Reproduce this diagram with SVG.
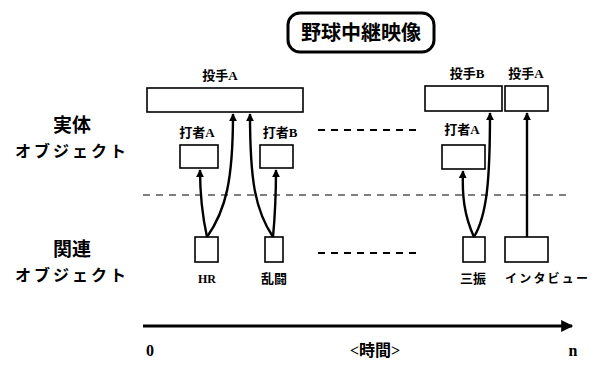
<svg xmlns="http://www.w3.org/2000/svg" width="591" height="365" viewBox="0 0 591 365">
<defs>
<marker id="ah" viewBox="0 0 10 10" refX="9" refY="5" markerWidth="8" markerHeight="8" markerUnits="userSpaceOnUse" orient="auto">
<path d="M0,0 L10,5 L0,10 z" fill="#000"/>
</marker>
<marker id="ah2" viewBox="0 0 10 10" refX="9" refY="5" markerWidth="14" markerHeight="12" markerUnits="userSpaceOnUse" orient="auto">
<path d="M0,0 L10,5 L0,10 z" fill="#000"/>
</marker>
</defs>
<style>
.box{fill:#fff;stroke:#000;stroke-width:1.6}
.lbl{font-family:"Liberation Serif","Noto Sans CJK JP",serif;font-weight:bold;font-size:13px;text-anchor:middle;fill:#000}
.axl{font-family:"Liberation Serif","Noto Sans CJK JP",serif;font-weight:bold;font-size:16px;text-anchor:middle;fill:#000}
.side{font-family:"Noto Sans CJK JP",sans-serif;font-weight:bold;text-anchor:middle;fill:#000}
.arr{fill:none;stroke:#000;stroke-width:2.4;marker-end:url(#ah)}
.dash{stroke:#000;stroke-width:1.2;stroke-dasharray:7,6;fill:none}
.dash2{stroke:#000;stroke-width:2;stroke-dasharray:7,6;fill:none}
</style>
<rect width="591" height="365" fill="#fff"/>
<g id="title">
<rect x="288" y="13" width="146" height="39" rx="12" ry="12" fill="#fff" stroke="#000" stroke-width="3"/>
<text x="361" y="40" class="side" font-size="20">野球中継映像</text>
</g>
<g id="side-labels">
<text x="72" y="132" class="side" font-size="19">実体</text>
<text x="72" y="157" class="side" font-size="16" letter-spacing="3">オブジェクト</text>
<text x="72" y="256" class="side" font-size="19">関連</text>
<text x="72" y="281" class="side" font-size="16" letter-spacing="3">オブジェクト</text>
</g>
<g id="pitcherA1">
<rect x="147" y="88" width="156" height="24" class="box"/>
<text x="220" y="80" class="lbl">投手A</text>
</g>
<g id="batterA1">
<rect x="180" y="145" width="38" height="23" class="box"/>
<text x="197" y="137" class="lbl">打者A</text>
</g>
<g id="batterB">
<rect x="260" y="145" width="33" height="23" class="box"/>
<text x="280" y="137" class="lbl">打者B</text>
</g>
<g id="pitcherB">
<rect x="425" y="86" width="77" height="25" class="box"/>
<text x="467" y="78" class="lbl">投手B</text>
</g>
<g id="pitcherA2">
<rect x="505" y="86" width="43" height="25" class="box"/>
<text x="526" y="78" class="lbl">投手A</text>
</g>
<g id="batterA2">
<rect x="442" y="145" width="43" height="24" class="box"/>
<text x="462" y="134" class="lbl">打者A</text>
</g>
<g id="hr">
<rect x="195" y="237" width="23" height="25" class="box"/>
<text x="207" y="283" class="lbl" style="font-size:12px">HR</text>
</g>
<g id="ranto">
<rect x="265" y="237" width="18" height="25" class="box"/>
<text x="274" y="283" class="lbl">乱闘</text>
</g>
<g id="sanshin">
<rect x="463" y="237" width="22" height="25" class="box"/>
<text x="473" y="283" class="lbl">三振</text>
</g>
<g id="interview">
<rect x="505" y="237" width="43" height="25" class="box"/>
<text x="505" y="283" class="lbl" textLength="83" lengthAdjust="spacing" style="text-anchor:start;font-size:12px">インタビュー</text>
</g>
<g id="connectors">
<path d="M143,195 L572,195" class="dash"/>
<path d="M318,130 L418,130" class="dash2"/>
<path d="M318,253 L418,253" class="dash2"/>
<path d="M207,237 Q200,205 200,170" class="arr"/>
<path d="M207,237 C226,210 233,180 233,114" class="arr"/>
<path d="M273,237 C255,210 250,180 250,114" class="arr"/>
<path d="M273,237 Q276,205 276,170" class="arr"/>
<path d="M474,237 C464,215 462,195 463,171" class="arr"/>
<path d="M474,237 C487,215 490,180 490,113" class="arr"/>
<path d="M527,237 L527,113" class="arr"/>
<path d="M143,326 L572,326" fill="none" stroke="#000" stroke-width="3" marker-end="url(#ah2)"/>
</g>
<g id="axis-labels">
<text x="150" y="356" class="axl">0</text>
<text x="375" y="356" class="axl">&lt;時間&gt;</text>
<text x="573" y="356" class="axl">n</text>
</g>
</svg>
